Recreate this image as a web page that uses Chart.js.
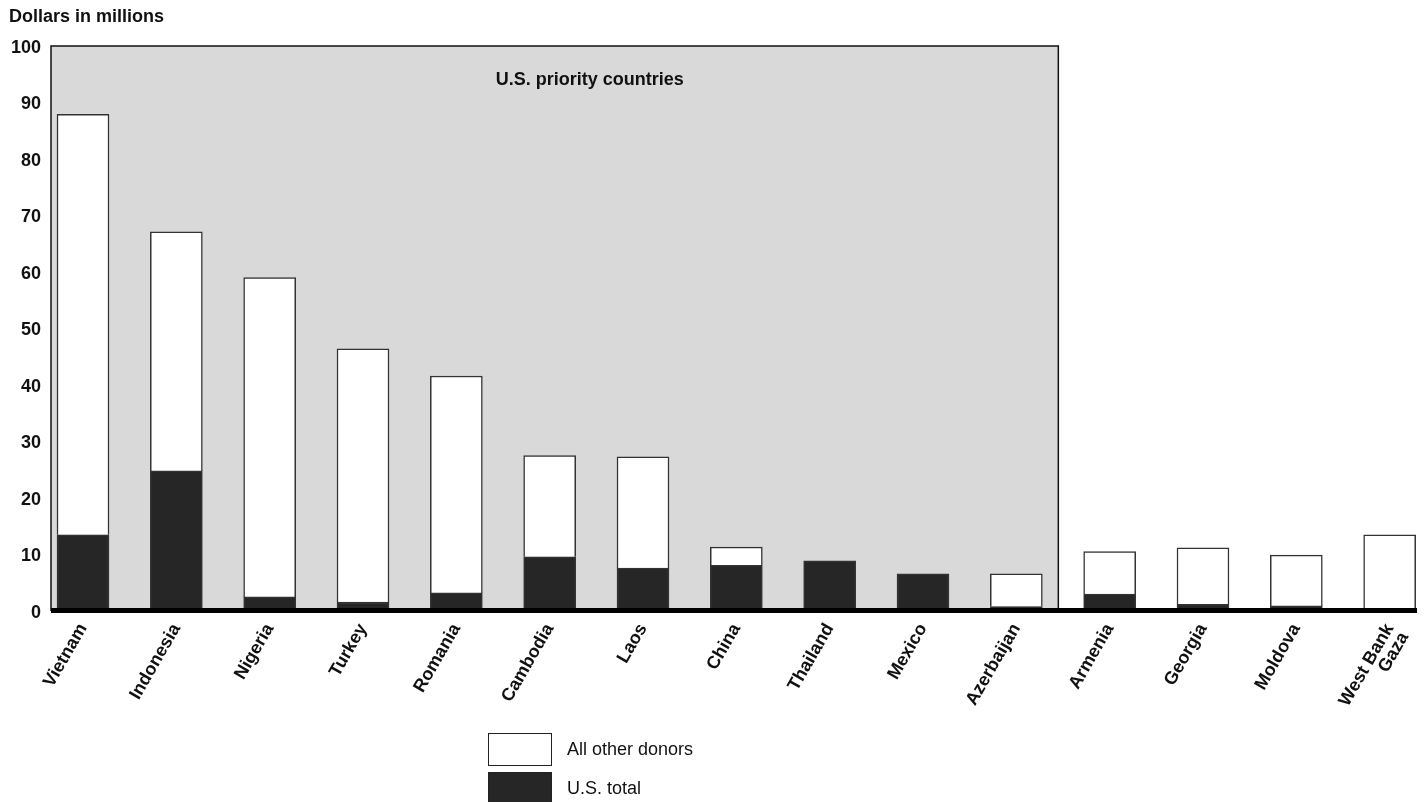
<!DOCTYPE html>
<html>
<head>
<meta charset="utf-8">
<script src="https://cdn.jsdelivr.net/npm/chart.js@4"></script>
<style>
  html, body { margin: 0; padding: 0; background: #fff; }
  #wrap { position: relative; width: 1424px; height: 802px; }
  #yTitle {
    position: absolute; left: 9px; top: 6px;
    font: bold 18px "Liberation Sans", Arial, sans-serif; color: #111;
  }
  #legend { position: absolute; left: 488px; top: 733px; }
  .leg-item { display: flex; align-items: center; height: 33px; margin-bottom: 6px; }
  .leg-box { width: 62px; height: 31px; border: 1px solid #222; margin-right: 15px; }
  .leg-text { font: 18px "Liberation Sans", Arial, sans-serif; color: #111; }
</style>
</head>
<body>
<div id="wrap">
  <canvas id="chart" width="1424" height="802"></canvas>
  <div id="yTitle">Dollars in millions</div>
  <div id="legend"></div>
</div>
<script>
// ---------- DATA ----------
const countries = ['Vietnam', 'Indonesia', 'Nigeria', 'Turkey', 'Romania', 'Cambodia', 'Laos',
  'China', 'Thailand', 'Mexico', 'Azerbaijan', 'Armenia', 'Georgia', 'Moldova', ['West Bank', 'Gaza']];
const usTotal =     [13.5, 24.8, 2.5, 1.6, 3.2, 9.6, 7.6, 8.1, 8.9, 6.6, 0.8, 3.0, 1.2, 0.9, 0];
const otherDonors = [74.4, 42.3, 56.5, 44.8, 38.4, 17.9, 19.7, 3.2, 0, 0, 5.8, 7.5, 10.0, 9.0, 13.5];
const yTicks = [0, 10, 20, 30, 40, 50, 60, 70, 80, 90, 100];
const priorityCount = 11; // first 11 countries are U.S. priority countries

const FONT = '"Liberation Sans", Arial, sans-serif';
const DARK = '#262626';

// gray panel behind priority countries + baseline
const panelPlugin = {
  id: 'panel',
  beforeDatasetsDraw(chart) {
    const { ctx, chartArea, scales: { x, y } } = chart;
    const right = x.getPixelForValue(priorityCount - 0.55);
    const bottom = y.getPixelForValue(0);
    ctx.save();
    ctx.fillStyle = '#d9d9d9';
    ctx.fillRect(chartArea.left, chartArea.top, right - chartArea.left, bottom - chartArea.top);
    ctx.strokeStyle = '#111';
    ctx.lineWidth = 1.5;
    ctx.beginPath();
    ctx.moveTo(chartArea.left, bottom);
    ctx.lineTo(chartArea.left, chartArea.top);
    ctx.lineTo(right, chartArea.top);
    ctx.lineTo(right, bottom);
    ctx.stroke();
    ctx.fillStyle = '#111';
    ctx.font = 'bold 18px ' + FONT;
    ctx.textAlign = 'center';
    ctx.textBaseline = 'middle';
    ctx.fillText('U.S. priority countries', x.getPixelForValue(5.43), y.getPixelForValue(93.9));
    ctx.restore();
  },
  afterDatasetsDraw(chart) {
    const { ctx, chartArea, scales: { y } } = chart;
    const y0 = y.getPixelForValue(0);
    ctx.save();
    ctx.fillStyle = '#000';
    ctx.fillRect(chartArea.left, y0 - 3, chartArea.right - chartArea.left, 5);
    ctx.restore();
  }
};

const chart = new Chart(document.getElementById('chart'), {
  type: 'bar',
  data: {
    datasets: [
      {
        label: 'U.S. total',
        data: usTotal.map((v, i) => ({ x: i, y: v })),
        backgroundColor: DARK,
        borderColor: '#333',
        borderWidth: 1.5,
        barThickness: 52
      },
      {
        label: 'All other donors',
        data: otherDonors.map((v, i) => ({ x: i, y: v })),
        backgroundColor: '#fff',
        borderColor: '#333',
        borderWidth: 1.5,
        barThickness: 52
      }
    ]
  },
  options: {
    responsive: false,
    animation: false,
    layout: { padding: { top: 46, right: 7, left: 0, bottom: 0 } },
    plugins: { legend: { display: false }, tooltip: { enabled: false } },
    scales: {
      x: {
        type: 'linear',
        stacked: true,
        offset: false,
        min: -0.343,
        max: 14.293,
        grid: { display: false, offset: false },
        border: { display: false },
        afterBuildTicks: (s) => { s.ticks = countries.map((c, i) => ({ value: i })); },
        ticks: {
          autoSkip: false,
          minRotation: 60,
          maxRotation: 60,
          padding: 2,
          color: '#111',
          font: { family: FONT, size: 18, weight: 'bold', lineHeight: 0.95 },
          callback: (v) => countries[v]
        },
        afterFit: (s) => { s.height = 802 - 611; }
      },
      y: {
        stacked: true,
        min: 0,
        max: 100,
        grid: { display: false, drawTicks: false },
        border: { display: false },
        afterBuildTicks: (s) => { s.ticks = yTicks.map(v => ({ value: v })); },
        ticks: {
          padding: 10,
          labelOffset: 2,
          color: '#111',
          font: { family: FONT, size: 18, weight: 'bold' }
        },
        afterFit: (s) => { s.width = 51; }
      }
    }
  },
  plugins: [panelPlugin]
});

// ---------- LEGEND ----------
const legendEl = document.getElementById('legend');
legendEl.innerHTML = chart.data.datasets.slice().reverse().map(ds => `
  <div class="leg-item">
    <div class="leg-box" style="background:${ds.backgroundColor}"></div>
    <span class="leg-text">${ds.label}</span>
  </div>
`).join('');
</script>
</body>
</html>
